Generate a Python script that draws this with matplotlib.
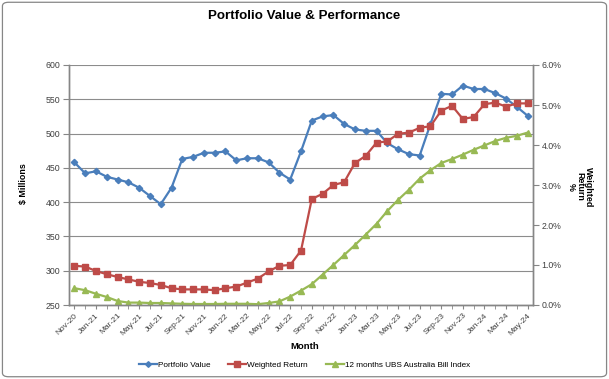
import numpy as np
import matplotlib
matplotlib.use('Agg')
import matplotlib.pyplot as plt
from matplotlib.ticker import PercentFormatter, MultipleLocator
from matplotlib.patches import FancyBboxPatch

plt.rcParams['font.family'] = ['Liberation Sans', 'DejaVu Sans']

# ---------------------------- Данные ----------------------------------

months = ['Nov-20', 'Dec-20',
          'Jan-21', 'Feb-21', 'Mar-21', 'Apr-21', 'May-21', 'Jun-21',
          'Jul-21', 'Aug-21', 'Sep-21', 'Oct-21', 'Nov-21', 'Dec-21',
          'Jan-22', 'Feb-22', 'Mar-22', 'Apr-22', 'May-22', 'Jun-22',
          'Jul-22', 'Aug-22', 'Sep-22', 'Oct-22', 'Nov-22', 'Dec-22',
          'Jan-23', 'Feb-23', 'Mar-23', 'Apr-23', 'May-23', 'Jun-23',
          'Jul-23', 'Aug-23', 'Sep-23', 'Oct-23', 'Nov-23', 'Dec-23',
          'Jan-24', 'Feb-24', 'Mar-24', 'Apr-24', 'May-24']

portfolio_value = [458, 442, 445, 437, 433, 429, 421, 409, 397, 421, 463, 466,
                   472, 472, 474, 461, 464, 464, 458, 443, 433, 474, 519, 525,
                   527, 514, 506, 504, 504, 486, 477, 470, 468, 514, 558, 557,
                   570, 565, 565, 559, 551, 539, 526]

weighted_return = [0.98, 0.96, 0.85, 0.77, 0.70, 0.64, 0.58, 0.55, 0.50, 0.42,
                   0.39, 0.39, 0.39, 0.37, 0.42, 0.46, 0.56, 0.66, 0.84, 0.98,
                   1.00, 1.36, 2.65, 2.78, 3.00, 3.07, 3.55, 3.73, 4.06, 4.09,
                   4.28, 4.31, 4.43, 4.47, 4.86, 4.98, 4.65, 4.70, 5.02, 5.06,
                   4.96, 5.04, 5.04]

ubs_bill_index = [0.42, 0.37, 0.28, 0.20, 0.10, 0.06, 0.06, 0.05, 0.05, 0.04,
                  0.03, 0.025, 0.025, 0.025, 0.03, 0.03, 0.03, 0.02, 0.05, 0.09,
                  0.21, 0.36, 0.52, 0.76, 1.00, 1.25, 1.50, 1.76, 2.03, 2.35,
                  2.63, 2.88, 3.16, 3.37, 3.55, 3.65, 3.76, 3.88, 3.99, 4.10,
                  4.18, 4.23, 4.31]

# ---------------------------- График ----------------------------------

c_blue = '#4A7EBB'
c_red = '#BE4B48'
c_green = '#98B954'
c_axis = '#868686'
c_text = '#404040'

x = np.arange(len(months))

fig = plt.figure(figsize=(6.09, 3.79), dpi=100)
ax = fig.add_axes([69/609, 1-305/379, (533-69)/609, (305-65)/379])
ax2 = ax.twinx()

# рамка вокруг диаграммы
fig.patches.append(FancyBboxPatch((0.004, 0.006), 0.992, 0.988,
                                  boxstyle='round,pad=0,rounding_size=0.01',
                                  transform=fig.transFigure, fill=False,
                                  edgecolor=c_axis, linewidth=0.9))

l1, = ax.plot(x, portfolio_value, color=c_blue, linewidth=1.6, marker='D',
              markersize=3.2, label='Portfolio Value')
l2, = ax2.plot(x, np.array(weighted_return) / 100, color=c_red, linewidth=1.6,
               marker='s', markersize=4.2, label='Weighted Return')
l3, = ax2.plot(x, np.array(ubs_bill_index) / 100, color=c_green, linewidth=1.6,
               marker='^', markersize=4.2, label='12 months UBS Australia Bill Index')

ax.set_xlim(-0.5, len(months) - 0.5)
ax.set_ylim(250, 600)
ax.yaxis.set_major_locator(MultipleLocator(50))
ax2.set_ylim(0, 0.06)
ax2.yaxis.set_major_locator(MultipleLocator(0.01))
ax2.yaxis.set_major_formatter(PercentFormatter(1.0, decimals=1))

ax.set_xticks(x[::2])
ax.set_xticklabels(months[::2], rotation=45, ha='right', rotation_mode='anchor',
                   fontsize=6.0, color=c_text)
ax.set_xticks(x, minor=True)
ax.tick_params(axis='x', which='both', length=3, color=c_axis, pad=2)
ax.tick_params(axis='y', labelsize=6.3, colors=c_text, length=4, color=c_axis, pad=2)
ax2.tick_params(axis='y', labelsize=6.3, colors=c_text, length=4, color=c_axis, pad=2)
for t in ax.get_yticklabels() + ax2.get_yticklabels():
    t.set_color(c_text)

ax.grid(axis='y', color='#8C8C8C', linewidth=0.8)
ax.set_axisbelow(True)

for a in (ax, ax2):
    a.spines['top'].set_visible(False)
    for s in ('left', 'right', 'bottom'):
        a.spines[s].set_color(c_axis)
        a.spines[s].set_linewidth(1.0)

fig.text(0.499, 0.958, 'Portfolio Value & Performance', ha='center', va='center',
         fontsize=9.6, fontweight='bold', color='black')
fig.text(0.5, 0.087, 'Month', ha='center', va='center', fontsize=6.8,
         fontweight='bold')
fig.text(0.039, 0.515, '$ Millions', ha='center', va='center', rotation=90,
         fontsize=6.4, fontweight='bold')
fig.text(0.952, 0.507, 'Weighted\nReturn\n%', ha='center', va='center',
         rotation=270, fontsize=6.4, fontweight='bold', linespacing=1.0)

fig.legend(handles=[l1, l2, l3], loc='center', bbox_to_anchor=(0.5, 0.037),
           ncol=3, frameon=False, fontsize=5.9, handlelength=2.2,
           columnspacing=2.2, handletextpad=0.1, markerscale=0.9)

plt.savefig('out.png', dpi=100)
plt.close()
